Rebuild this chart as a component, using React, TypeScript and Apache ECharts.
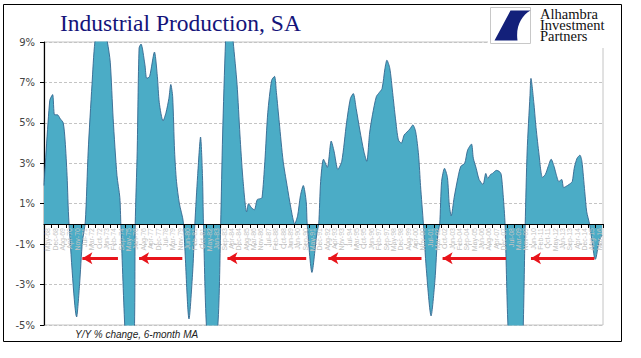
import React, { useEffect, useRef } from "react";
import * as echarts from "echarts";

// Monthly dates (YYYY-MM) and Y/Y % change (6-month MA)
const months = [
  "1968-01","1968-07","1968-10","1968-12","1969-03","1969-06","1969-09","1969-11","1970-01","1970-03",
  "1970-11","1971-02","1971-05","1971-08","1971-11","1972-03","1972-06","1972-12","1973-07","1973-10",
  "1974-01","1974-05","1974-08","1974-09","1975-01","1975-06","1975-11","1975-12","1976-02","1976-04",
  "1976-06","1976-10","1976-12","1977-03","1977-08","1977-11","1978-01","1978-05","1978-08","1978-11",
  "1979-01","1979-03","1979-05","1979-07","1979-10","1980-02","1980-08","1980-12","1981-02","1981-05",
  "1981-08","1981-10","1981-11","1982-02","1982-07","1983-02","1983-05","1983-07","1983-10","1984-01",
  "1984-06","1984-10","1985-01","1985-04","1985-08","1985-10","1986-01","1986-04","1986-07","1986-10",
  "1986-12","1987-03","1987-06","1987-10","1988-01","1988-03","1988-06","1988-10","1989-02","1989-06",
  "1989-10","1990-01","1990-04","1990-07","1990-10","1990-11","1991-04","1991-09","1991-11","1992-01",
  "1992-04","1992-08","1992-12","1993-03","1993-07","1993-11","1994-04","1994-08","1994-11","1995-02",
  "1995-06","1995-10","1996-01","1996-04","1996-07","1996-11","1997-02","1997-05","1997-08","1997-10",
  "1998-01","1998-04","1998-07","1998-10","1999-01","1999-04","1999-07","1999-10","2000-01","2000-04",
  "2000-07","2000-09","2000-12","2001-03","2001-08","2001-12","2002-03","2002-05","2002-07","2002-10",
  "2003-01","2003-03","2003-05","2003-08","2003-12","2004-03","2004-07","2004-10","2005-02","2005-04",
  "2005-07","2005-10","2006-02","2006-05","2006-07","2006-10","2006-12","2007-04","2007-07","2007-09",
  "2007-11","2008-01","2008-04","2008-10","2009-04","2009-08","2009-10","2009-12","2010-03","2010-04",
  "2010-07","2010-09","2010-12","2011-04","2011-07","2011-10","2012-01","2012-04","2012-06","2012-09",
  "2012-12","2013-02","2013-06","2013-09","2013-11","2014-01","2014-04","2014-07","2014-09","2014-12",
  "2015-02","2015-05","2015-10","2015-11","2016-03","2016-06",
];

const ipYoY = [
  1.9, 6.1, 6.4, 5.4, 5.4, 5.2, 5.0, 4.1, 2.4, 0.1,
  -4.6, -3.0, -0.9, 0.1, 3.6, 6.9, 9.0, 10.5, 9.0, 8.0,
  5.2, 2.4, 1.3, 0.0, -5.0, -9.5, -5.5, 0.0, 3.6, 8.7,
  8.9, 7.9, 7.2, 7.3, 8.5, 7.3, 6.0, 5.1, 5.5, 6.2,
  6.9, 6.3, 3.6, 2.1, 1.0, 0.1, -4.7, -2.2, 0.0, 2.4,
  4.3, 2.4, 0.0, -5.0, -7.0, -5.0, 0.0, 4.4, 9.0, 11.5,
  9.0, 6.9, 4.4, 2.3, 0.6, 1.0, 0.8, 0.7, 1.2, 1.25,
  1.3, 3.1, 5.5, 7.1, 7.3, 6.5, 5.0, 3.1, 1.9, 0.8,
  0.0, 0.4, 1.4, 1.9, 1.1, 0.0, -2.4, -0.5, 0.0, 2.1,
  3.2, 2.8, 4.1, 3.6, 2.7, 3.1, 5.0, 6.2, 6.45, 5.7,
  4.6, 3.6, 3.1, 4.5, 5.4, 6.3, 6.5, 6.7, 7.7, 8.1,
  7.7, 6.5, 5.2, 4.15, 4.0, 4.4, 4.55, 4.7, 4.9, 4.55,
  3.4, 1.9, 0.0, -2.2, -4.55, -2.8, -0.5, 0.0, 2.1, 2.75,
  2.3, 0.95, 0.4, 1.3, 2.3, 2.85, 3.0, 3.65, 3.95, 3.25,
  2.75, 2.2, 1.95, 2.5, 2.25, 2.45, 2.5, 2.65, 2.6, 2.45,
  1.45, 0.0, -5.0, -10.0, -11.0, -5.0, 0.0, 3.6, 6.35, 7.2,
  6.0, 4.9, 3.6, 2.3, 2.45, 2.85, 3.2, 2.85, 2.5, 2.1,
  2.2, 1.8, 1.9, 2.0, 2.1, 2.75, 3.25, 3.4, 3.1, 1.6,
  0.6, 0.0, -1.65, -1.75, -0.85, -0.55,
];

const axisStart = "1968-01";
const axisEnd = "2016-07";

// Crowded date tick labels along the zero line
const tickLabels = [
  "May-68","Dec-68","Aug-69","Apr-70","Nov-70","Jul-71","Mar-72","Oct-72","Jun-73","Feb-74",
  "Sep-74","May-75","Jan-76","Aug-76","Apr-77","Dec-77","Jul-78","Mar-79","Nov-79","Jun-80",
  "Feb-81","Oct-81","May-82","Jan-83","Sep-83","Apr-84","Dec-84","Aug-85","Mar-86","Nov-86",
  "Jul-87","Feb-88","Oct-88","Jun-89","Jan-90","Sep-90","May-91","Dec-91","Aug-92","Apr-93",
  "Nov-93","Jul-94","Mar-95","Oct-95","Jun-96","Feb-97","Sep-97","May-98","Dec-98","Aug-99",
  "Apr-00","Nov-00","Jul-01","Mar-02","Oct-02","Jun-03","Feb-04","Sep-04","May-05","Jan-06",
  "Aug-06","Apr-07","Dec-07","Jul-08","Mar-09","Nov-09","Jun-10","Feb-11","Oct-11","May-12",
  "Jan-13","Sep-13","Apr-14","Dec-14","Aug-15","Mar-16",
];

const yTicks = ["-5%", "-3%", "-1%", "1%", "3%", "5%", "7%", "9%"];

// Red arrows: from recession start back to end of previous recession
const arrowFrom = ["1974-06", "1980-01", "1990-10", "2000-10", "2008-02", "2015-10"];
const arrowTo = ["1971-05", "1976-04", "1983-12", "1992-09", "2002-08", "2010-04"];
const arrowLevel = -1.7;

const Y_MIN = -5;
const Y_MAX = 9;
const GRID_TOP = 42;
const GRID_BOTTOM = 33;
const CHART_H = 358;

const ts = (s: string) => {
  const [y, m] = s.split("-").map(Number);
  return new Date(y, m - 1, 1).getTime();
};

const logoPath = "M20 3 L40 3 C31 8 25 19 27 33 L4 33 Z";

export default function App() {
  const ref = useRef<HTMLDivElement>(null);

  useEffect(() => {
    if (!ref.current) return;
    try {
      echarts.graphic.registerShape("logo", echarts.graphic.extendPath(logoPath, {}));
    } catch (e) {}
    const chart = echarts.init(ref.current, null, { renderer: "svg" });

    const seriesData = months.map((m, i) => [ts(m), ipYoY[i]]);
    const arrows = arrowFrom.map((f, i) => [
      { coord: [ts(f), arrowLevel] },
      { coord: [ts(arrowTo[i]), arrowLevel] },
    ]);

    // offset that moves the category axis from the grid bottom up to the zero line
    const plotH = CHART_H - GRID_TOP - GRID_BOTTOM;
    const zeroOffset = -Math.round((plotH * (0 - Y_MIN)) / (Y_MAX - Y_MIN));

    chart.setOption({
      animation: false,
      backgroundColor: "#ffffff",
      grid: {
        left: 44,
        right: 38,
        top: GRID_TOP,
        bottom: GRID_BOTTOM,
        show: true,
        borderColor: "#c4c4c4",
        borderWidth: 1,
      },
      xAxis: [
        {
          type: "category",
          data: tickLabels,
          boundaryGap: true,
          position: "bottom",
          offset: zeroOffset,
          z: 5,
          axisLine: { show: true, onZero: false, lineStyle: { color: "#000", width: 1.2 } },
          axisTick: { show: true, interval: 0, length: 4, lineStyle: { color: "#000" } },
          axisLabel: {
            interval: 0,
            rotate: 90,
            fontSize: 7,
            margin: 4,
            color: "#c4c4c4",
            fontFamily: "Liberation Sans",
          },
          splitLine: { show: false },
        },
        {
          type: "time",
          min: ts(axisStart),
          max: ts(axisEnd),
          show: false,
          axisLine: { onZero: false },
        },
      ],
      yAxis: {
        type: "value",
        min: Y_MIN,
        max: Y_MAX,
        interval: 2,
        axisLine: { show: true, lineStyle: { color: "#000", width: 1.2 } },
        axisTick: { show: true, length: 4, lineStyle: { color: "#000" } },
        axisLabel: {
          formatter: (v: number) => yTicks[Math.round((v - Y_MIN) / 2)] ?? "",
          fontSize: 10,
          color: "#444",
          margin: 9,
          fontFamily: "DejaVu Sans",
        },
        splitLine: { show: true, lineStyle: { color: "#c4c4c4", type: [3, 2], width: 1 } },
      },
      series: [
        {
          type: "line",
          xAxisIndex: 1,
          data: seriesData,
          smooth: 0.25,
          showSymbol: false,
          symbol: "none",
          lineStyle: { color: "#33678f", width: 0.9 },
          areaStyle: { color: "#4bacc6", opacity: 1 },
          z: 2,
          markLine: {
            silent: true,
            symbol: ["none", "arrow"],
            symbolSize: [9, 10],
            label: { show: false },
            lineStyle: { color: "#e8141b", width: 3, type: "solid" },
            data: arrows,
            z: 6,
          },
        },
      ],
      graphic: [
        {
          type: "rect",
          shape: { x: 3.5, y: 4.5, width: 618, height: 337 },
          style: { fill: "none", stroke: "#000", lineWidth: 1 },
          z: 1,
        },
        {
          type: "text",
          x: 60,
          y: 23,
          style: {
            text: "Industrial Production, SA",
            fontFamily: "Liberation Serif",
            fontSize: 23.5,
            fill: "#14147a",
            verticalAlign: "middle",
          },
        },
        {
          type: "rect",
          shape: { x: 488, y: 5, width: 128, height: 43 },
          style: { fill: "#fff" },
          z: 20,
        },
        {
          type: "rect",
          shape: { x: 490.5, y: 7.5, width: 40, height: 36 },
          style: { fill: "#fff", stroke: "#c8c8c8", lineWidth: 1 },
          z: 21,
        },
        {
          type: "logo",
          x: 490.5,
          y: 7.5,
          style: { fill: "#13207a" },
          z: 22,
        },
        {
          type: "text",
          x: 540,
          y: 9,
          z: 22,
          style: {
            text: "Alhambra\nInvestment\nPartners",
            fontFamily: "Liberation Serif",
            fontSize: 14.5,
            lineHeight: 10.8,
            fill: "#111",
            verticalAlign: "top",
          },
        },
        {
          type: "text",
          x: 75,
          y: 334.5,
          style: {
            text: "Y/Y % change, 6-month MA",
            fontFamily: "Liberation Sans",
            fontStyle: "italic",
            fontSize: 10,
            fill: "#222",
            verticalAlign: "middle",
          },
        },
      ],
    });

    return () => chart.dispose();
  }, []);

  return (
    <div
      ref={ref}
      style={{ position: "fixed", left: 0, top: 0, width: 641, height: 358, background: "#fff" }}
    />
  );
}
